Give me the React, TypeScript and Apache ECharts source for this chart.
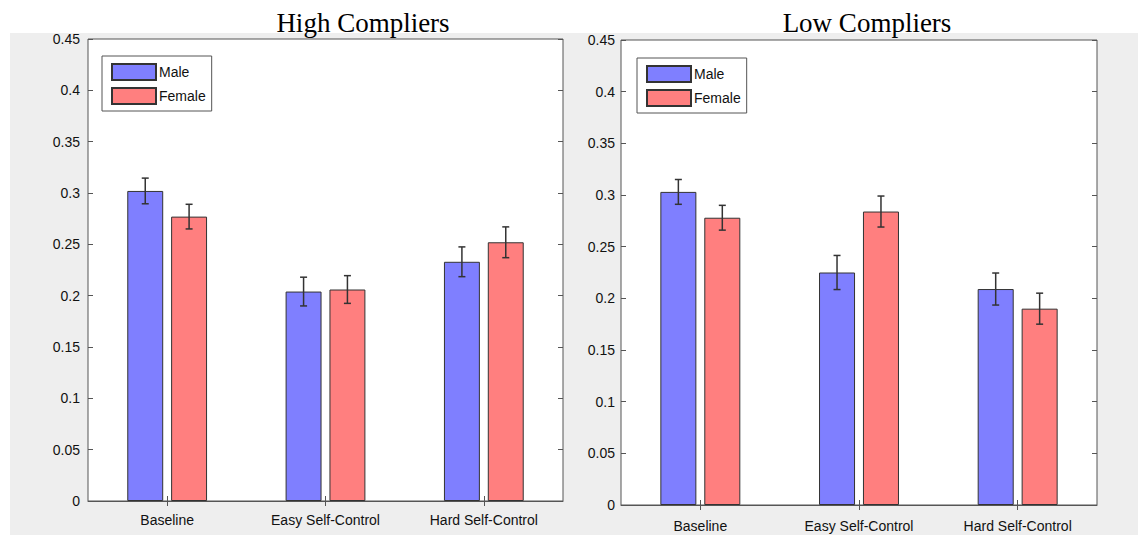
import React, { useEffect, useRef } from "react";
import * as echarts from "echarts";

const categories = ["Baseline", "Easy Self-Control", "Hard Self-Control"];
const seriesNames = ["Male", "Female"];
const titles = ["High Compliers", "Low Compliers"];
const yTicks = { min: 0, max: 0.45, interval: 0.05 };

const highMale = [0.302, 0.204, 0.233];
const highMaleErr = [0.0125, 0.014, 0.0145];
const highFemale = [0.277, 0.206, 0.252];
const highFemaleErr = [0.012, 0.0135, 0.015];

const lowMale = [0.303, 0.225, 0.209];
const lowMaleErr = [0.012, 0.0165, 0.0155];
const lowFemale = [0.278, 0.284, 0.19];
const lowFemaleErr = [0.012, 0.015, 0.015];

const BAR_W = 0.227;
const GAP = 0.22;
const MALE_COLOR = "#7f7fff";
const FEMALE_COLOR = "#ff7f7f";
const SANS = "'Liberation Sans', Arial, sans-serif";
const SERIF = "'Liberation Serif', 'Times New Roman', serif";

function errData(vals: number[], errs: number[], side: number) {
  return vals.map((v, i) => [i, v - errs[i], v + errs[i], side]);
}

const renderErr = (params: any, api: any) => {
  const cat = api.value(0);
  const lo = api.value(1);
  const hi = api.value(2);
  const side = api.value(3);
  const band = api.size([1, 0])[0];
  const bw = band * BAR_W;
  const off = ((side === 0 ? -1 : 1) * (bw + bw * GAP)) / 2;
  const p1 = api.coord([cat, lo]);
  const p2 = api.coord([cat, hi]);
  const x = p1[0] + off;
  const cap = 3.5;
  const style = { stroke: "#333", lineWidth: 1.5 };
  return {
    type: "group",
    children: [
      { type: "line", shape: { x1: x, y1: p1[1], x2: x, y2: p2[1] }, style },
      { type: "line", shape: { x1: x - cap, y1: p1[1], x2: x + cap, y2: p1[1] }, style },
      { type: "line", shape: { x1: x - cap, y1: p2[1], x2: x + cap, y2: p2[1] }, style },
    ],
  };
};

export default function App() {
  const ref = useRef<HTMLDivElement>(null);

  useEffect(() => {
    if (!ref.current) return;
    const chart = echarts.init(ref.current, undefined, { renderer: "svg" });

    const grids = [
      { left: 88, top: 39, width: 475, height: 462 },
      { left: 621, top: 40, width: 476, height: 465 },
    ];
    const labelMargins = [12, 14];
    const yLabelMargins = [8, 6];
    const legendPos = [
      { left: 102, top: 56 },
      { left: 637, top: 58 },
    ];
    const data = [
      { male: highMale, maleErr: highMaleErr, female: highFemale, femaleErr: highFemaleErr },
      { male: lowMale, maleErr: lowMaleErr, female: lowFemale, femaleErr: lowFemaleErr },
    ];

    const tickStyle = { show: true, inside: true, length: 5, lineStyle: { color: "#555", width: 1 } };

    const xAxis: any[] = [];
    const yAxis: any[] = [];
    const series: any[] = [];
    grids.forEach((g, gi) => {
      xAxis.push({
        type: "category",
        gridIndex: gi,
        data: categories,
        position: "bottom",
        axisLine: { show: true, lineStyle: { color: "#555", width: 1 } },
        axisTick: { ...tickStyle, alignWithLabel: true },
        axisLabel: { color: "#111", fontSize: 14, fontFamily: SANS, margin: labelMargins[gi] },
      });
      xAxis.push({
        type: "category",
        gridIndex: gi,
        data: categories,
        position: "top",
        axisLine: { show: false },
        axisTick: { ...tickStyle, alignWithLabel: true },
        axisLabel: { show: false },
      });
      yAxis.push({
        type: "value",
        gridIndex: gi,
        position: "left",
        min: yTicks.min,
        max: yTicks.max,
        interval: yTicks.interval,
        splitLine: { show: false },
        axisLine: { show: false },
        axisTick: tickStyle,
        axisLabel: { color: "#111", fontSize: 14, fontFamily: SANS, margin: yLabelMargins[gi] },
      });
      yAxis.push({
        type: "value",
        gridIndex: gi,
        position: "right",
        min: yTicks.min,
        max: yTicks.max,
        interval: yTicks.interval,
        splitLine: { show: false },
        axisLine: { show: false },
        axisTick: tickStyle,
        axisLabel: { show: false },
      });
      const d = data[gi];
      const barCommon = {
        type: "bar",
        xAxisIndex: gi * 2,
        yAxisIndex: gi * 2,
        barWidth: BAR_W * 100 + "%",
        barGap: GAP * 100 + "%",
      };
      series.push({
        ...barCommon,
        name: seriesNames[0],
        data: d.male,
        itemStyle: { color: MALE_COLOR, borderColor: "#333", borderWidth: 1 },
      });
      series.push({
        ...barCommon,
        name: seriesNames[1],
        data: d.female,
        itemStyle: { color: FEMALE_COLOR, borderColor: "#333", borderWidth: 1 },
      });
      series.push({
        type: "custom",
        xAxisIndex: gi * 2,
        yAxisIndex: gi * 2,
        renderItem: renderErr,
        encode: { x: 0, y: [1, 2] },
        data: errData(d.male, d.maleErr, 0),
        z: 5,
        silent: true,
      });
      series.push({
        type: "custom",
        xAxisIndex: gi * 2,
        yAxisIndex: gi * 2,
        renderItem: renderErr,
        encode: { x: 0, y: [1, 2] },
        data: errData(d.female, d.femaleErr, 1),
        z: 5,
        silent: true,
      });
    });

    chart.setOption({
      animation: false,
      backgroundColor: "#ffffff",
      title: [
        {
          text: titles[0],
          left: 358,
          top: 4,
          textAlign: "center",
          textStyle: { fontFamily: SERIF, fontSize: 27, fontWeight: "normal", color: "#000" },
        },
        {
          text: titles[1],
          left: 862,
          top: 4,
          textAlign: "center",
          textStyle: { fontFamily: SERIF, fontSize: 27, fontWeight: "normal", color: "#000" },
        },
      ],
      graphic: [
        {
          type: "rect",
          z: -100,
          shape: { x: 10, y: 33, width: 1128, height: 502 },
          style: { fill: "#eeeeee" },
          silent: true,
        },
      ],
      legend: legendPos.map((p) => ({
        ...p,
        orient: "vertical",
        data: seriesNames,
        icon: "rect",
        itemWidth: 44,
        itemHeight: 16,
        itemGap: 6,
        padding: [7, 6, 6, 9],
        backgroundColor: "#fff",
        borderColor: "#555",
        borderWidth: 1,
        selectedMode: false,
        textStyle: { fontFamily: SANS, fontSize: 14, color: "#111", padding: [0, 0, 0, -2] },
      })),
      grid: grids.map((g) => ({
        ...g,
        show: true,
        backgroundColor: "#fff",
        borderColor: "#555",
        borderWidth: 1,
        containLabel: false,
      })),
      xAxis,
      yAxis,
      series,
    });

    return () => chart.dispose();
  }, []);

  return (
    <div
      ref={ref}
      style={{ position: "absolute", left: 0, top: 0, width: 1145, height: 535 }}
    />
  );
}
